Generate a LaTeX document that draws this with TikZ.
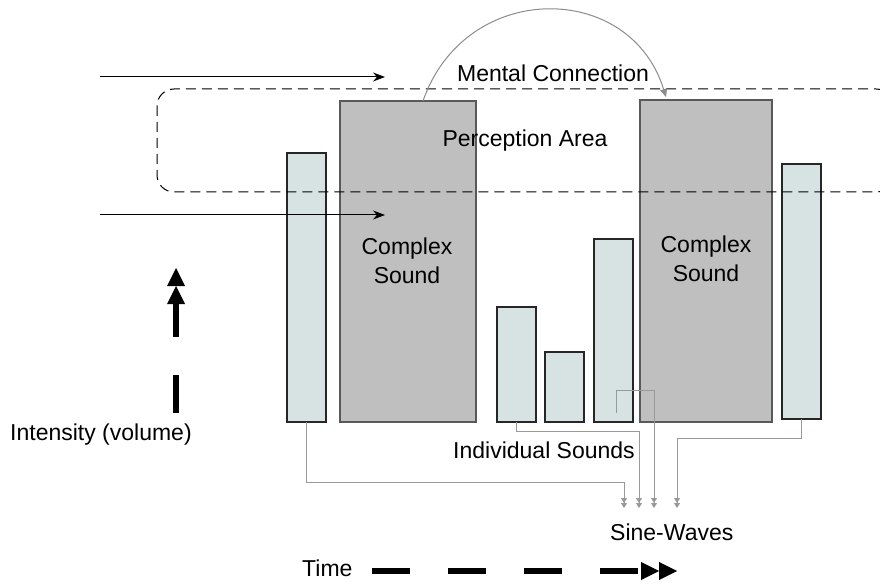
\documentclass[tikz,border=0pt]{standalone}
\usepackage{fontspec}
\setmainfont{Liberation Sans}
\usetikzlibrary{arrows.meta}
\definecolor{barfill}{RGB}{215,227,227}
\definecolor{blockfill}{RGB}{191,191,191}

\begin{document}
\begin{tikzpicture}[x=1pt, y=-1pt, font=\fontsize{23}{28.5}\selectfont,
    bar/.style={draw=black!85, line width=1.2pt, fill=barfill, anchor=south west, inner sep=0pt, outer sep=0pt},
    block/.style={draw=black!65, line width=2pt, fill=blockfill, anchor=south west, inner sep=0pt, outer sep=0pt},
    label/.style={inner sep=0pt, anchor=base},
    route/.style={draw=black!40, line width=1pt, -{Triangle[length=5pt,width=6pt]Triangle[length=5pt,width=6pt]}},
    flow/.style={line width=1pt, -{Stealth[length=12pt,width=9pt]}},
    axis/.style={line width=5.5pt, dash pattern=on 38pt off 38pt, -{Triangle[length=18pt,width=18pt,line width=0pt]Triangle[length=18pt,width=18pt,line width=0pt]}}]
    \useasboundingbox (0,0) rectangle (880,585);
    \clip (0,0) rectangle (880,585);

    \node[bar, minimum width=39pt, minimum height=269pt] (l1) at (287,422) {};
    \node[block, minimum width=136pt, minimum height=321pt] (g1) at (340,422) {};
    \node[bar, minimum width=39pt, minimum height=115pt] (a) at (497,422) {};
    \node[bar, minimum width=39pt, minimum height=70pt] (b) at (545,422) {};
    \node[bar, minimum width=39pt, minimum height=183pt] (c) at (594,422) {};
    \node[block, minimum width=132pt, minimum height=322pt] (g2) at (640,422) {};
    \node[bar, minimum width=39pt, minimum height=255pt] (r) at (782,419) {};

    \coordinate (c3) at (616,413);
    \coordinate (w1) at (624,508);
    \coordinate (w2) at (639,508);
    \coordinate (w3) at (654,508);
    \coordinate (w4) at (677,508);
    \draw[route] (l1.south) -- ++(0,60) -| (w1);
    \draw[route] (a.south) -- ++(0,9) -| (w2);
    \draw[route] (c3) -- ++(0,-23) -| (w3);
    \draw[route] (r.south) -- ++(0,19) -| (w4);

    \draw[dash pattern=on 10pt off 6pt, line width=1pt, rounded corners=17pt] (157,89) rectangle (893,192);

    \draw[draw=black!45, line width=1pt, -{Triangle[length=8pt,width=7pt]}] ([xshift=15pt]g1.north) .. controls (465,-20) and (630,-20) .. ([shift={(-40,-3)}]g2.north);

    \coordinate (in1) at (100,77);
    \coordinate (in1e) at (385,77);
    \coordinate (in2) at (100,215);
    \coordinate (in2e) at (385,215);
    \draw[flow] (in1) -- (in1e);
    \draw[flow] (in2) -- (in2e);

    \coordinate (t0) at (372,571);
    \coordinate (t1) at (677,571);
    \coordinate (i0) at (176,413);
    \coordinate (i1) at (176,268);
    \draw[axis] (t0) -- (t1);
    \draw[axis] (i0) -- (i1);

    \node[label] (mental) at (553,82) {Mental Connection};
    \node[label] (percept) at (525,147) {Perception Area};
    \node[align=center] (cs1) at (407,261) {Complex\\Sound};
    \node[align=center] (cs2) at (706,259) {Complex\\Sound};
    \node[label] (indiv) at (544,458) {Individual Sounds};
    \node[label, anchor=base west] (sine) at (610,540) {Sine-Waves};
    \node[label, anchor=base west] (time) at (302,576) {Time};
    \node[label, anchor=base west] (intens) at (10,440) {Intensity (volume)};
\end{tikzpicture}
\end{document}
